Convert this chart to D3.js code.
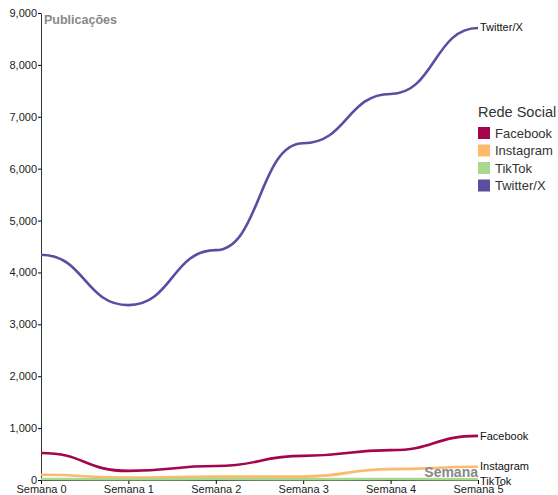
<!DOCTYPE html>
<html><head><meta charset="utf-8">
<script src="https://cdn.jsdelivr.net/npm/d3@7"></script>
<style>body{margin:0;background:#fff;font-family:Arial,"Liberation Sans",sans-serif}</style>
</head><body><svg id="c" width="558" height="495"></svg>
<script>
const weeks = ["Semana 0","Semana 1","Semana 2","Semana 3","Semana 4","Semana 5"];
const networks = ["Facebook","Instagram","TikTok","Twitter/X"];
const facebook = [520, 175, 270, 465, 575, 850];
const instagram = [100, 45, 65, 65, 210, 255];
const tiktok = [20, 15, 20, 15, 20, 15];
const twitter = [4340, 3370, 4430, 6490, 7440, 8710];
const yTicks = [0,1000,2000,3000,4000,5000,6000,7000,8000,9000];
const colors = ["#a3064a","#fdb96c","#a9d98e","#5c4da1"];

const series = [facebook, instagram, tiktok, twitter];
const svg = d3.select("#c");
const m = {l:41, r:80, t:13, b:15};
const W = 558, H = 495;
const x = d3.scalePoint().domain(weeks).range([m.l, W - m.r]);
const y = d3.scaleLinear().domain([0, 9000]).range([H - m.b, m.t]);
const color = d3.scaleOrdinal().domain(networks).range(colors);

const xa = svg.append("g").attr("transform", `translate(0,${H - m.b})`)
  .call(d3.axisBottom(x).tickSizeOuter(0).tickSize(4).tickPadding(1));
xa.selectAll("text").attr("font-size", 11).attr("fill", "#222");
xa.select(".domain").attr("stroke", "#333");
const ya = svg.append("g").attr("transform", `translate(${m.l},0)`)
  .call(d3.axisLeft(y).tickValues(yTicks).tickFormat(d3.format(",")).tickSize(3).tickPadding(1).tickSizeOuter(0));
ya.selectAll("text").attr("font-size", 11).attr("fill", "#222");
ya.select(".domain").attr("stroke", "#333");

const line = d3.line().x((d,i) => x(weeks[i])).y(d => y(d)).curve(d3.curveBumpX);
networks.forEach((n, k) => {
  svg.append("path").datum(series[k]).attr("fill", "none")
    .attr("stroke", color(n)).attr("stroke-width", 2.6).attr("d", line);
});

svg.append("text").attr("x", W - m.r).attr("y", H - m.b - 3).attr("text-anchor", "end")
  .attr("font-size", 14).attr("font-weight", "bold").attr("fill", "#888").text("Semana");
svg.append("text").attr("x", m.l + 3).attr("y", m.t + 11)
  .attr("font-size", 12.5).attr("font-weight", "bold").attr("fill", "#888").text("Publicações");

const labelDy = {"Facebook":0, "Instagram":-1, "TikTok":2, "Twitter/X":-1};
networks.forEach((n, k) => {
  const v = series[k][weeks.length - 1];
  svg.append("text").attr("x", x(weeks[weeks.length-1]) + 2).attr("y", y(v) + labelDy[n])
    .attr("dy", "0.35em").attr("font-size", 11).attr("fill", "#111").text(n);
});

const lg = svg.append("g").attr("transform", "translate(478,117)");
lg.append("text").attr("x", 0).attr("y", 0).attr("font-size", 14.5).attr("fill", "#333").text("Rede Social");
networks.forEach((n, k) => {
  lg.append("rect").attr("x", 0).attr("y", 10 + k * 17.5).attr("width", 12).attr("height", 12).attr("fill", color(n));
  lg.append("text").attr("x", 17).attr("y", 16 + k * 17.5).attr("dy", "0.35em").attr("font-size", 13).attr("fill", "#333").text(n);
});
</script></body></html>
